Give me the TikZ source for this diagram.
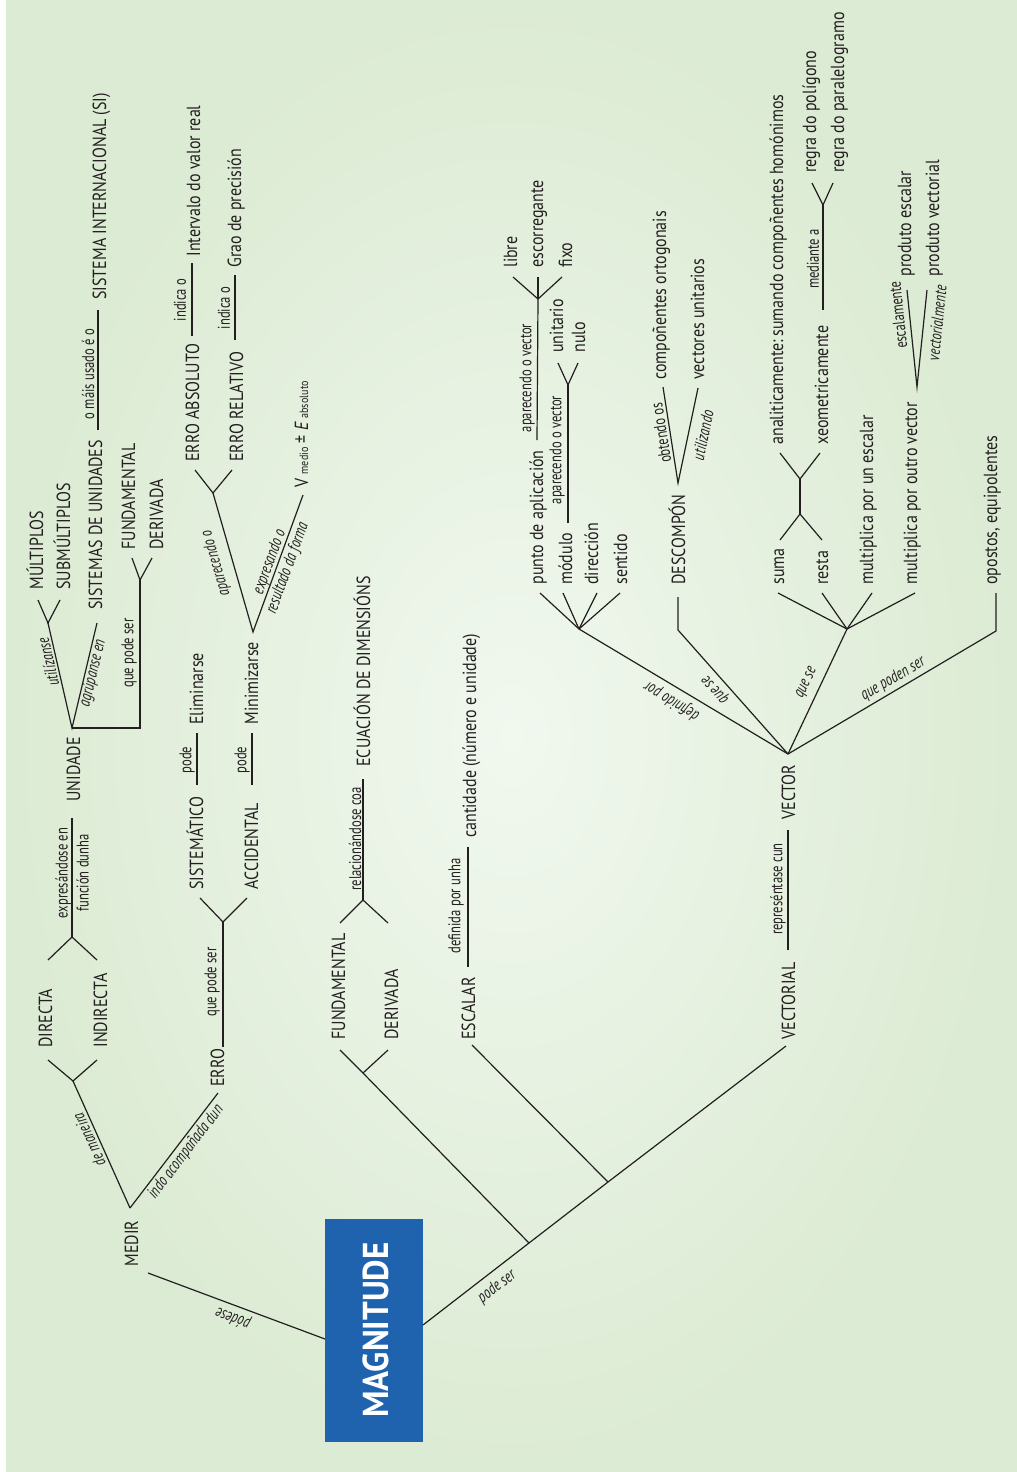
\documentclass[tikz,border=0pt]{standalone}
\usepackage{fontspec}
\setmainfont{PT Sans}
\newfontfamily\mainf[FakeStretch=0.84]{PT Sans}
\newfontfamily\lblf[FakeStretch=0.74]{PT Sans}
\newfontfamily\magf[FakeStretch=0.92]{PT Sans}
\definecolor{txtc}{HTML}{231F20}
\definecolor{magblue}{HTML}{1F63AE}
\definecolor{bgin}{HTML}{F1F8EF}
\definecolor{bgout}{HTML}{DCEBD3}
\tikzset{
  ln/.style={line width=0.6pt, draw=txtc},
  mtxt/.style={rotate=90, anchor=base west, inner sep=0pt, text=txtc, font=\mainf\fontsize{9.5}{11}\selectfont},
  lbl/.style={inner sep=0pt, text=txtc, align=center, font=\lblf\fontsize{8.5}{10.5}\selectfont},
  lbli/.style={inner sep=0pt, text=txtc, align=center, font=\lblf\itshape\fontsize{8.5}{9.5}\selectfont},
}
\begin{document}
\begin{tikzpicture}[x=0.5pt,y=-0.5pt]
\useasboundingbox (0,0) rectangle (1017,1472);
\fill[white] (0,0) rectangle (1017,1472);
\shade[inner color=bgin, outer color=bgout] (6,0) rectangle (1017,1471);

% ---------- MAGNITUDE ----------
\node[fill=magblue, minimum width=49pt, minimum height=111.5pt, inner sep=0pt] (magbox) at (374,1330.5) {};
\node[rotate=90, inner sep=0pt, text=white, font=\magf\bfseries\fontsize{18}{20}\selectfont] (magt) at (376,1330) {MAGNITUDE};

% ---------- coordinates ----------
\coordinate (magL) at (325,1339);
\coordinate (medirB) at (148,1273);
\coordinate (magR) at (423,1325);
\coordinate (vectorialB) at (786,1046);
\coordinate (j1) at (529,1243);
\coordinate (j2) at (608,1182);
\coordinate (fundB) at (340,1050);
\coordinate (derF) at (363,1073);
\coordinate (derB) at (388,1050);
\coordinate (ecuF) at (363,900);
\coordinate (ecuL) at (340,923);
\coordinate (ecuR) at (388,923);
\coordinate (ecuT) at (363,779);
\coordinate (escB) at (472,1045);
\coordinate (cantB) at (468,967);
\coordinate (cantT) at (468,847);
\coordinate (repB) at (788,950);
\coordinate (repT) at (788,830);
\coordinate (V) at (788,754);
\coordinate (pF) at (579,629);
\coordinate (p1) at (540,593);
\coordinate (p2) at (563,593);
\coordinate (p3) at (597,593);
\coordinate (p4) at (620,593);
\coordinate (paB) at (537,440);
\coordinate (lF) at (538,299);
\coordinate (l1) at (513,277);
\coordinate (l2) at (538,277);
\coordinate (l3) at (562,277);
\coordinate (moB) at (568,523);
\coordinate (nF) at (568,385);
\coordinate (n1) at (558,363);
\coordinate (n2) at (578,363);
\coordinate (dF) at (678,630);
\coordinate (dT0) at (678,597);
\coordinate (dT) at (678,483);
\coordinate (d1) at (663,387);
\coordinate (d2) at (698,388);
\coordinate (sF) at (847,629);
\coordinate (s1) at (778,593);
\coordinate (s2) at (822,593);
\coordinate (s3) at (872,593);
\coordinate (s4) at (915,593);
\coordinate (srL) at (780,540);
\coordinate (srR) at (822,540);
\coordinate (srB) at (800,514);
\coordinate (srT) at (800,479);
\coordinate (axL) at (780,453);
\coordinate (axR) at (820,453);
\coordinate (xeB) at (823,310);
\coordinate (xeF) at (823,205);
\coordinate (xe1) at (812,183);
\coordinate (xe2) at (833,183);
\coordinate (mvF) at (917,387);
\coordinate (mv1) at (907,290);
\coordinate (mv2) at (927,290);
\coordinate (oF) at (996,631);
\coordinate (oT) at (996,593);
\coordinate (mT) at (130,1208);
\coordinate (mF) at (73,1081);
\coordinate (mF1) at (48,1060);
\coordinate (mF2) at (97,1060);
\coordinate (erroB) at (218,1093);
\coordinate (erB) at (223,1047);
\coordinate (erF) at (223,922);
\coordinate (er1) at (200,898);
\coordinate (er2) at (247,898);
\coordinate (siB) at (197,785);
\coordinate (siT) at (197,733);
\coordinate (acB) at (252,785);
\coordinate (acT) at (252,733);
\coordinate (minT) at (253,632);
\coordinate (eF) at (213,493);
\coordinate (vmB) at (303,495);
\coordinate (e1) at (195,470);
\coordinate (e2) at (232,470);
\coordinate (eaB) at (192,336);
\coordinate (eaT) at (192,263);
\coordinate (erlB) at (235,340);
\coordinate (erlT) at (235,275);
\coordinate (uF1) at (48,960);
\coordinate (uF2) at (97,960);
\coordinate (uF) at (72,937);
\coordinate (uFT) at (72,818);
\coordinate (uT) at (72,728);
\coordinate (muF) at (48,623);
\coordinate (siuB) at (97,623);
\coordinate (uC) at (140,728);
\coordinate (fdF) at (140,580);
\coordinate (mu1) at (38,600);
\coordinate (mu2) at (60,600);
\coordinate (fd1) at (132,558);
\coordinate (fd2) at (152,558);
\coordinate (sisB) at (98,430);
\coordinate (sisT) at (98,310);

% ---------- connectors ----------
\draw[ln] (magL) -- (medirB);
\draw[ln] (magR) -- (j1) -- (j2) -- (vectorialB);
\draw[ln] (j1) -- (derF) -- (fundB);
\draw[ln] (derF) -- (derB);
\draw[ln] (ecuL) -- (ecuF) -- (ecuR);
\draw[ln] (ecuF) -- (ecuT);
\draw[ln] (j2) -- (escB);
\draw[ln] (cantB) -- (cantT);
\draw[ln] (repB) -- (repT);
\draw[ln] (V) -- (pF);
\draw[ln] (V) -- (dF) -- (dT0);
\draw[ln] (V) -- (sF);
\draw[ln] (V) -- (oF) -- (oT);
\draw[ln] (pF) -- (p1); \draw[ln] (pF) -- (p2); \draw[ln] (pF) -- (p3); \draw[ln] (pF) -- (p4);
\draw[ln] (paB) -- (lF);
\draw[ln] (lF) -- (l1); \draw[ln] (lF) -- (l2); \draw[ln] (lF) -- (l3);
\draw[ln] (moB) -- (nF);
\draw[ln] (n1) -- (nF) -- (n2);
\draw[ln] (d1) -- (dT) -- (d2);
\draw[ln] (sF) -- (s1); \draw[ln] (sF) -- (s2); \draw[ln] (sF) -- (s3); \draw[ln] (sF) -- (s4);
\draw[ln] (srL) -- (srB) -- (srR);
\draw[ln] (srB) -- (srT);
\draw[ln] (axL) -- (srT) -- (axR);
\draw[ln] (xeB) -- (xeF);
\draw[ln] (xe1) -- (xeF) -- (xe2);
\draw[ln] (mv1) -- (mvF) -- (mv2);
\draw[ln] (mT) -- (mF);
\draw[ln] (mF1) -- (mF) -- (mF2);
\draw[ln] (mT) -- (erroB);
\draw[ln] (erB) -- (erF);
\draw[ln] (er1) -- (erF) -- (er2);
\draw[ln] (siB) -- (siT);
\draw[ln] (acB) -- (acT);
\draw[ln] (eF) -- (minT) -- (vmB);
\draw[ln] (e1) -- (eF) -- (e2);
\draw[ln] (eaB) -- (eaT);
\draw[ln] (erlB) -- (erlT);
\draw[ln] (uF1) -- (uF) -- (uF2);
\draw[ln] (uF) -- (uFT);
\draw[ln] (muF) -- (uT) -- (siuB);
\draw[ln] (uT) -- (uC) -- (fdF);
\draw[ln] (mu1) -- (muF) -- (mu2);
\draw[ln] (fd1) -- (fdF) -- (fd2);
\draw[ln] (sisB) -- (sisT);

% ---------- concept texts ----------
\node[mtxt] (medir) at (138,1267) {MEDIR};
\node[mtxt] (directa) at (52,1048) {DIRECTA};
\node[mtxt] (indirecta) at (107,1048) {INDIRECTA};
\node[mtxt] (erro) at (224,1087) {ERRO};
\node[mtxt] (unidade) at (80,802) {UNIDADE};
\node[mtxt] (multiplos) at (43,590) {MÚLTIPLOS};
\node[mtxt] (submultiplos) at (70,590) {SUBMÚLTIPLOS};
\node[mtxt] (sistemas) at (102,610) {SISTEMAS DE UNIDADES};
\node[mtxt] (ufund) at (135,550) {FUNDAMENTAL};
\node[mtxt] (uder) at (163,550) {DERIVADA};
\node[mtxt] (si) at (106,300) {SISTEMA INTERNACIONAL (SI)};
\node[mtxt] (sistematico) at (203,890) {SISTEMÁTICO};
\node[mtxt] (accidental) at (258,890) {ACCIDENTAL};
\node[mtxt] (eliminarse) at (203,725) {Eliminarse};
\node[mtxt] (minimizarse) at (258,725) {Minimizarse};
\node[mtxt] (eabs) at (199,462) {ERRO ABSOLUTO};
\node[mtxt] (erel) at (243,462) {ERRO RELATIVO};
\node[mtxt] (intervalo) at (200,257) {Intervalo do valor real};
\node[mtxt] (grao) at (241,268) {Grao de precisión};
\node[mtxt] (vmedio) at (308,488) {V {\fontsize{6}{7}\selectfont medio} ± {\itshape E} {\fontsize{6}{7}\selectfont absoluto}};
\node[mtxt] (mfund) at (345,1040) {FUNDAMENTAL};
\node[mtxt] (mder) at (398,1040) {DERIVADA};
\node[mtxt] (ecuacion) at (370,767) {ECUACIÓN DE DIMENSIÓNS};
\node[mtxt] (escalar) at (475,1040) {ESCALAR};
\node[mtxt] (cantidade) at (476,838) {cantidade (número e unidade)};
\node[mtxt] (vectorial) at (795,1040) {VECTORIAL};
\node[mtxt] (vector) at (795,820) {VECTOR};
\node[mtxt] (punto) at (543,585) {punto de aplicación};
\node[mtxt] (modulo) at (572,585) {módulo};
\node[mtxt] (direccion) at (598,585) {dirección};
\node[mtxt] (sentido) at (627,585) {sentido};
\node[mtxt] (libre) at (517,268) {libre};
\node[mtxt] (escorregante) at (543,268) {escorregante};
\node[mtxt] (fixo) at (572,268) {fixo};
\node[mtxt] (unitario) at (563,353) {unitario};
\node[mtxt] (nulo) at (585,353) {nulo};
\node[mtxt] (descompon) at (685,585) {DESCOMPÓN};
\node[mtxt] (ortogonais) at (666,380) {compoñentes ortogonais};
\node[mtxt] (unitarios) at (704,380) {vectores unitarios};
\node[mtxt] (suma) at (784,585) {suma};
\node[mtxt] (resta) at (828,585) {resta};
\node[mtxt] (mescalar) at (873,585) {multiplica por un escalar};
\node[mtxt] (mvector) at (917,585) {multiplica por outro vector};
\node[mtxt] (analit) at (783,445) {analiticamente:\,sumando compoñentes homónimos};
\node[mtxt] (xeom) at (828,445) {xeometricamente};
\node[mtxt] (poligono) at (816,173) {regra do polígono};
\node[mtxt] (paralel) at (844,173) {regra do paralelogramo};
\node[mtxt] (pescalar) at (911,277) {produto escalar};
\node[mtxt] (pvectorial) at (939,277) {produto vectorial};
\node[mtxt] (opostos) at (997,585) {opostos, equipolentes};

% ---------- connector labels ----------
\node[lbli, rotate=159.6] (lpodese) at (233,1318) {pódese};
\node[lbli, rotate=37.5] (lpodeser) at (497,1287) {pode ser};
\node[lbli, rotate=114.4] (lmaneira) at (89,1140) {de maneira};
\node[lbli, rotate=52.6] (lindo) at (186,1152) {indo acompañada dun};
\node[lbl, rotate=90] (lrel) at (355,839) {relacionándose coa};
\node[lbl, rotate=90] (ldef) at (456,906) {definida por unha};
\node[lbl, rotate=90] (lrep) at (778,889) {represéntase cun};
\node[lbl, rotate=90] (lap1) at (527,378) {aparecendo o vector};
\node[lbl, rotate=90] (lap2) at (557,450) {aparecendo o vector};
\node[lbl, rotate=98.9] (lobt) at (661,433) {obtendo os};
\node[lbli, rotate=78.1] (lutil) at (703,435) {utilizando};
\node[lbl, rotate=90] (lmed) at (813,259) {mediante a};
\node[lbl, rotate=95.9] (lesc) at (898,315) {escalamente};
\node[lbli, rotate=84.1] (lvec) at (937,323) {vectorialmente};
\node[lbli, rotate=149] (ldefpor) at (672,701) {definido por};
\node[lbli, rotate=131.3] (lquese1) at (716,689) {que se};
\node[lbli, rotate=64.7] (lquese2) at (807,683) {que se};
\node[lbli, rotate=30.6] (lpoden) at (893,679) {que poden ser};
\node[lbl, rotate=90] (lqps) at (212,982) {que pode ser};
\node[lbl, rotate=90] (lpode1) at (187,760) {pode};
\node[lbl, rotate=90] (lpode2) at (242,760) {pode};
\node[lbli, rotate=106.1] (lapar) at (216,563) {aparecendo o};
\node[lbli, rotate=70] (lexpr) at (279,565) {expresando o\\resultado da forma};
\node[lbl, rotate=90] (lind1) at (180,300) {indica o};
\node[lbl, rotate=90] (lind2) at (224,308) {indica o};
\node[lbl, rotate=90] (lexpre) at (72,873) {expresándose en\\función dunha};
\node[lbli, rotate=102.9] (lutil2) at (48,662) {utilízanse};
\node[lbli, rotate=76.6] (lagr) at (93,673) {agrúpanse en};
\node[lbl, rotate=90] (lqps2) at (129,653) {que pode ser};
\node[lbl, rotate=90] (lmais) at (88,374) {o máis usado é o};
\end{tikzpicture}
\end{document}
